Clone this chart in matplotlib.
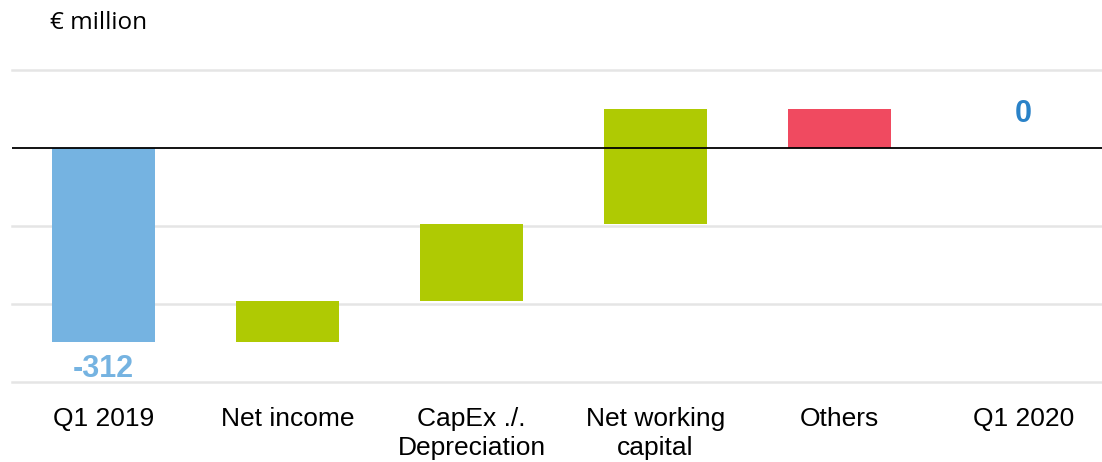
import numpy as np
import matplotlib.pyplot as plt

# waterfall data (€ million)
categories = ['Q1 2019', 'Net income', 'CapEx ./.\nDepreciation', 'Net working\ncapital', 'Others', 'Q1 2020']
start_value = -312
deltas = [66, 124, 185, -63]
end_value = 0
grid_values = [125, -125, -250, -375]

blue = '#75B3E1'
green = '#AFCA03'
red = '#F04A60'
dark_blue = '#2A82C8'

plt.rcParams['font.family'] = ['Liberation Sans', 'DejaVu Sans']

fig = plt.figure(figsize=(11.02, 4.62), dpi=100)
ax = fig.add_axes([11.5 / 1102, (462 - 381.7) / 462, (1102 - 11.5) / 1102, (381.7 - 70) / 462])

# bars
x = np.arange(len(categories))
width = 0.56
ax.bar(x[0], start_value, width=width, color=blue, zorder=2)
level = start_value
for i, d in enumerate(deltas):
    ax.bar(x[i + 1], d, bottom=level, width=width, color=green if d > 0 else red, zorder=2)
    level += d
ax.bar(x[-1], end_value, width=width, color=dark_blue, zorder=2)

# value labels
ax.annotate(f'{start_value}', (x[0], start_value), xytext=(0, -8), textcoords='offset points',
            ha='center', va='top', fontsize=22, fontweight='bold', color=blue)
ax.annotate(f'{end_value}', (x[-1], end_value), xytext=(0, 13.5), textcoords='offset points',
            ha='center', va='bottom', fontsize=22, fontweight='bold', color=dark_blue)

# grid and zero line
for g in grid_values:
    ax.axhline(g, color='#E5E5E5', linewidth=1.8, zorder=0, clip_on=False)
ax.axhline(0, color='black', linewidth=1.3, zorder=3)

ax.set_xlim(-0.5, -0.5 + (1102 - 11.5) / 184)
ax.set_ylim(-375, 125)
ax.set_xticks(x)
ax.set_xticklabels(categories, fontsize=19, linespacing=1.22)
ax.set_yticks([])
ax.tick_params(axis='x', length=0, pad=18.5)
for s in ax.spines.values():
    s.set_visible(False)

fig.text(50 / 1102, 1 - 29 / 462, '€ million', fontsize=17.5, family=['Open Sans', 'DejaVu Sans'],
         ha='left', va='baseline')

plt.savefig('out.png', dpi=100)
